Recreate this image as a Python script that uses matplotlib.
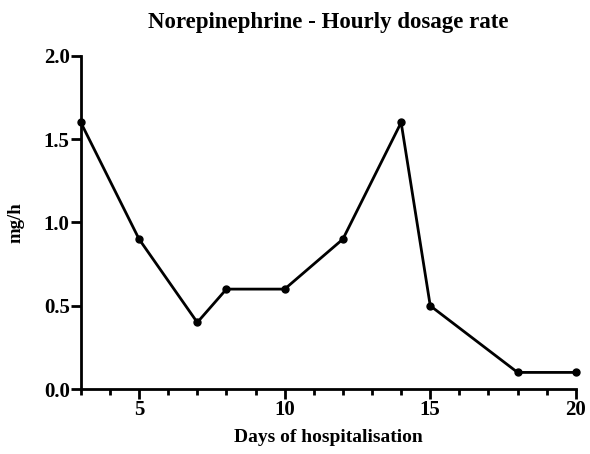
import matplotlib
matplotlib.use("Agg")
import matplotlib.pyplot as plt
from matplotlib.ticker import MultipleLocator

days = [3, 5, 7, 8, 10, 12, 14, 15, 18, 20]
dose = [1.6, 0.9, 0.4, 0.6, 0.6, 0.9, 1.6, 0.5, 0.1, 0.1]

plt.rcParams['font.family'] = ['Liberation Serif', 'DejaVu Serif']
plt.rcParams['font.weight'] = 'bold'

fig = plt.figure(figsize=(5.9, 4.54), dpi=100)
ax = fig.add_axes([0.137, 0.143, 0.839, 0.734])

ax.plot(days, dose, color='black', linewidth=2, marker='o', markersize=5, clip_on=False)

ax.set_xlim(3, 20)
ax.set_ylim(0, 2.0)
ax.xaxis.set_major_locator(MultipleLocator(5))
ax.xaxis.set_minor_locator(MultipleLocator(1))
ax.yaxis.set_major_locator(MultipleLocator(0.5))
ax.yaxis.set_major_formatter(matplotlib.ticker.FormatStrFormatter('%.1f'))

for s in ['top', 'right']:
    ax.spines[s].set_visible(False)
for s in ['left', 'bottom']:
    ax.spines[s].set_linewidth(2)

ax.tick_params(which='major', length=7, width=2, labelsize=15, pad=1)
ax.tick_params(which='minor', length=4, width=2)

ax.set_title('Norepinephrine - Hourly dosage rate', fontsize=16.5, fontweight='bold', pad=20)
ax.set_xlabel('Days of hospitalisation', fontsize=14, fontweight='bold', labelpad=6)
ax.set_ylabel('mg/h', fontsize=13.5, fontweight='bold', labelpad=14)

fig.savefig('out.png', dpi=100)
